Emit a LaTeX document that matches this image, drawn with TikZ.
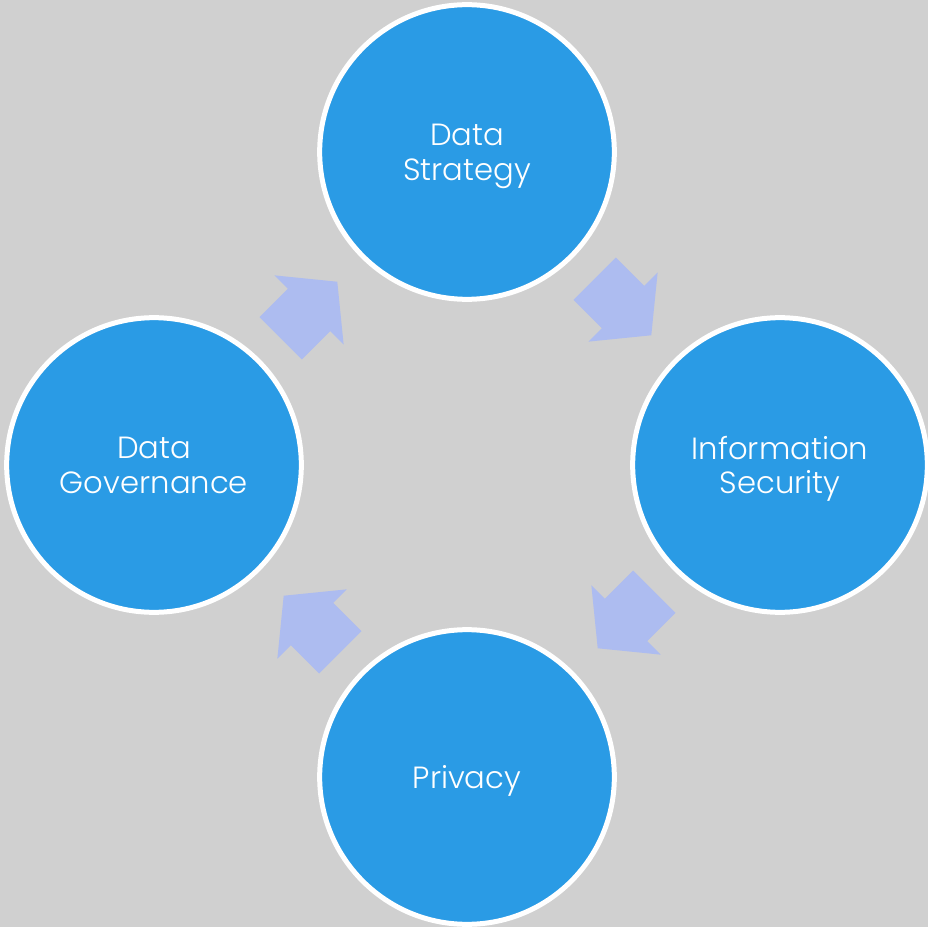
\documentclass[tikz,border=0pt]{standalone}
\usepackage{fontspec}
\setmainfont{Poppins}[UprightFont=* Light]
\usetikzlibrary{positioning}

\definecolor{bg}{RGB}{208,208,208}
\definecolor{topic}{RGB}{42,155,229}
\definecolor{flow}{RGB}{173,188,240}

\tikzset{
  topic/.style={circle,draw=white,line width=3.75pt,fill=topic,text=white,
    minimum size=221pt,inner sep=0pt,align=center,text depth=0pt,
    font=\fontsize{23}{26}\selectfont},
  flowarrow/.style={fill=flow,draw=none}
}

\begin{document}
\begin{tikzpicture}[x=0.75pt,y=-0.75pt]
        \fill[bg] (0,0) rectangle (928,927);
        \useasboundingbox (0,0) rectangle (928,927);

        \node[topic] (strat) at (467,152) {Data\\Strategy};
        \node[topic] (sec)   at (780,465) {Information\\Security};
        \node[topic] (priv)  at (467,777) {Privacy};
        \node[topic] (gov)   at (154,465) {Data\\Governance};

        % arrows between the topics
        \foreach \px/\py/\ang in {623/307/-45, 626/620/-135, 312/624/135, 309/310/45}
          \fill[flowarrow,shift={(\px,\py)},rotate=\ang]
            (-40,-30) -- (0,-30) -- (0,-49) -- (40,0) -- (0,49) -- (0,30) -- (-40,30) -- cycle;
\end{tikzpicture}
\end{document}
